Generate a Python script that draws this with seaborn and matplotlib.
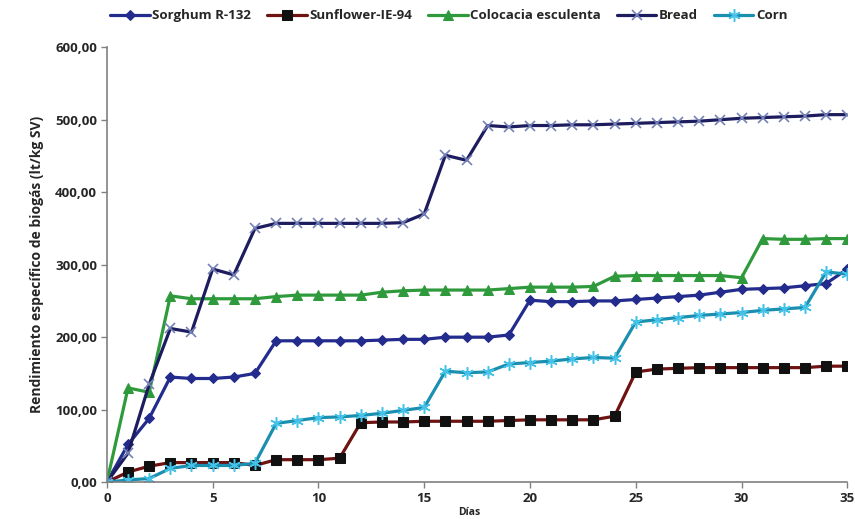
import numpy as np
import pandas as pd
import seaborn as sns
import matplotlib.pyplot as plt

# days of digestion
dias = list(range(36))

sorghum = [0, 52, 88, 145, 143, 143, 145, 150, 195, 195, 195, 195, 195, 196, 197,
           197, 200, 200, 200, 203, 251, 249, 249, 250, 250, 252, 254, 256, 258, 262,
           266, 267, 268, 271, 274, 294]
sunflower = [0, 14, 22, 27, 27, 27, 27, 23, 31, 31, 31, 33, 82, 83, 83,
             84, 84, 84, 84, 85, 86, 86, 86, 86, 91, 152, 156, 157, 158, 158,
             158, 158, 158, 158, 160, 160]
colocacia = [0, 130, 124, 257, 253, 253, 253, 253, 256, 258, 258, 258, 258, 262, 264,
             265, 265, 265, 265, 267, 269, 269, 269, 270, 284, 285, 285, 285, 285, 285,
             282, 336, 335, 335, 336, 336]
bread = [0, 40, 135, 212, 207, 294, 286, 350, 357, 357, 357, 357, 357, 357, 358,
         370, 451, 444, 492, 490, 492, 492, 493, 493, 494, 495, 496, 497, 498, 500,
         502, 503, 504, 505, 507, 507]
corn = [0, 3, 5, 19, 23, 23, 23, 26, 81, 85, 89, 90, 92, 95, 99,
        103, 153, 151, 152, 163, 165, 167, 170, 172, 171, 221, 224, 227, 230, 232,
        234, 237, 239, 241, 290, 287]

series = ['Sorghum R-132', 'Sunflower-IE-94', 'Colocacia esculenta', 'Bread', 'Corn']
valores = [sorghum, sunflower, colocacia, bread, corn]

estilos = {
    'Sorghum R-132': dict(color='#232c8c', marker='D', markersize=5.5,
                          markerfacecolor='#232c8c', markeredgecolor='#232c8c'),
    'Sunflower-IE-94': dict(color='#6e1212', marker='s', markersize=7,
                            markerfacecolor='#111111', markeredgecolor='#111111'),
    'Colocacia esculenta': dict(color='#2f9a3c', marker='^', markersize=7,
                                markerfacecolor='#2f9a3c', markeredgecolor='#2f9a3c'),
    'Bread': dict(color='#1c1c5e', marker='x', markersize=7, markeredgewidth=1.2,
                  markeredgecolor='#7482b8'),
    'Corn': dict(color='#1b8fb0', marker=(6, 2, 0), markersize=9, markeredgewidth=1.1,
                 markeredgecolor='#45c2e8'),
}

sns.set_style('white')
plt.rcParams['font.family'] = ['Open Sans', 'DejaVu Sans']

fig = plt.figure(figsize=(8.55, 5.19), dpi=100)
ax = fig.add_axes([0.125, 0.071, 0.866, 0.838])

for nombre, vals in zip(series, valores):
    sns.lineplot(x=dias, y=vals, ax=ax, label=nombre, linewidth=2.3, **estilos[nombre])

ax.set_xlim(0, 35)
ax.set_ylim(0, 600)
ax.set_xticks(range(0, 36, 5))
ax.set_yticks(range(0, 601, 100))
ax.set_yticklabels([f'{v},00' for v in range(0, 601, 100)])
ax.tick_params(axis='both', labelsize=9.5, direction='out', length=4, color='#808080',
               width=1, left=True, bottom=True, pad=3)
for lbl in ax.get_xticklabels() + ax.get_yticklabels():
    lbl.set_fontweight('bold')

for s in ['top', 'right']:
    ax.spines[s].set_visible(False)
for s in ['left', 'bottom']:
    ax.spines[s].set_color('#808080')
    ax.spines[s].set_linewidth(1.2)

ax.set_ylabel('Rendimiento específico de biogás (lt/kg SV)', fontsize=10,
              fontweight='bold', labelpad=8)
ax.set_xlabel('Días', fontsize=7.5, fontweight='bold')
ax.xaxis.set_label_coords(0.49, -0.058)

ax.get_legend().remove()
handles, labels = ax.get_legend_handles_labels()
fig.legend(handles, labels, loc='upper center', bbox_to_anchor=(0.525, 1.005), ncol=5,
           frameon=False, handlelength=3.0, columnspacing=1.2, handletextpad=0.2,
           prop={'weight': 'bold', 'size': 9.5})

fig.savefig('out.png', dpi=100)
